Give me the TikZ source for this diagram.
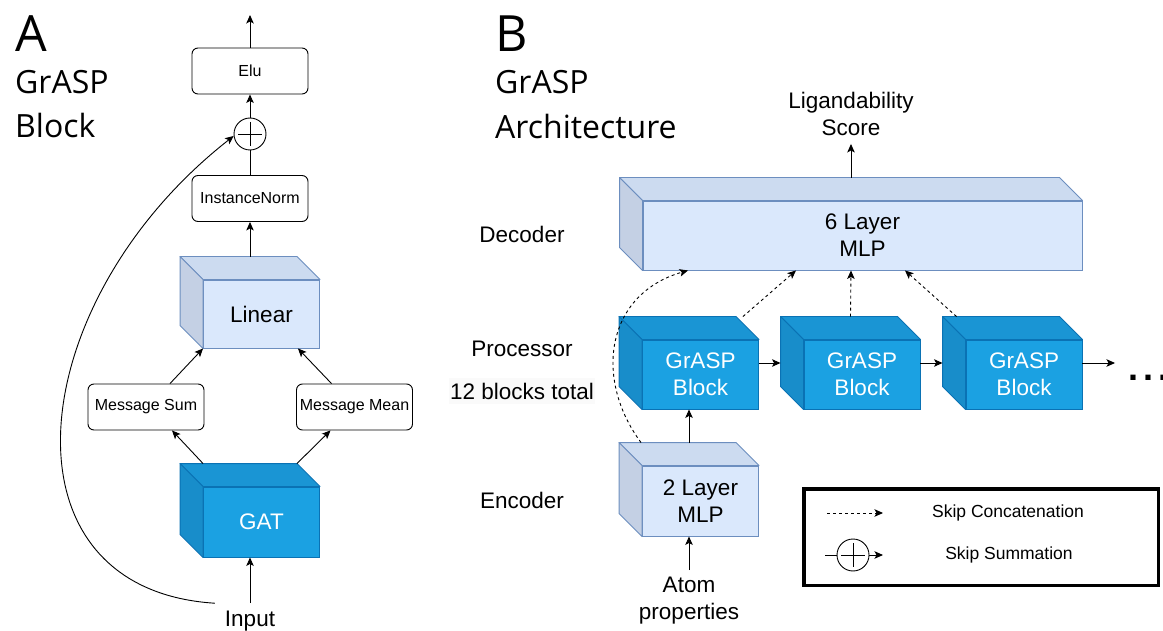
\documentclass[tikz,border=0pt]{standalone}
\usepackage{fontspec}
\setmainfont{Liberation Sans}
\newfontfamily\headfont{Open Sans}
\usetikzlibrary{arrows.meta}

\definecolor{lbfill}{HTML}{DAE8FC}
\definecolor{lbtop}{HTML}{CCDBF0}
\definecolor{lbside}{HTML}{C4D0E4}
\definecolor{lbedge}{HTML}{6C8EBF}
\definecolor{dbfill}{HTML}{1BA1E2}
\definecolor{dbtop}{HTML}{1A95D4}
\definecolor{dbside}{HTML}{188DCA}
\definecolor{dbedge}{HTML}{0A72B4}

\tikzset{
  big/.style={font=\fontsize{22.5}{27}\selectfont, align=center, inner sep=2pt},
  small/.style={font=\fontsize{16}{18}\selectfont},
  legtext/.style={font=\fontsize{17.5}{20}\selectfont, inner sep=0pt},
  head/.style={font=\headfont\fontsize{32}{32}\selectfont, anchor=base west, inner sep=0pt},
  opbox/.style={small, draw, rounded corners=6pt, line width=0.9pt, minimum width=116pt, minimum height=46pt, inner sep=0pt},
  lightcube/.style={big, draw=lbedge, fill=lbfill, line width=0.9pt, inner sep=0pt},
  darkcube/.style={big, text=white, draw=dbedge, fill=dbfill, line width=0.9pt, inner sep=0pt},
  oplus/.style={circle, draw, line width=0.9pt, minimum size=32pt, inner sep=0pt,
    path picture={\draw[line width=0.9pt] ([xshift=4pt]path picture bounding box.west) -- ([xshift=-4pt]path picture bounding box.east)
      ([yshift=-4pt]path picture bounding box.north) -- ([yshift=4pt]path picture bounding box.south);}},
  arr/.style={-{Stealth[length=8.5pt,width=7.5pt,inset=2pt]}, line width=0.9pt},
  skip/.style={arr, dash pattern=on 3pt off 3pt},
}

\begin{document}
\begin{tikzpicture}[x=1pt,y=-1pt]
  \useasboundingbox (0,0) rectangle (1163,631);
  \fill[white] (0,0) rectangle (1163,631);

  % panel A
  \node[head, font=\headfont\fontsize{50}{50}\selectfont] (labA) at (15,52) {A};
  \node[head] (labAa) at (15,94) {GrASP};
  \node[head] (labAb) at (15,138) {Block};

  \node[opbox] (elu) at (250,71) {Elu};
  \node[oplus] (plus) at (250,134) {};
  \node[opbox] (inorm) at (250,198.5) {InstanceNorm};
  \node[lightcube, minimum width=116pt, minimum height=68pt] (lin) at (261.5,314) {Linear};
  \node[opbox] (msum) at (146,407) {Message Sum};
  \node[opbox] (mmean) at (354.5,407) {Message Mean};
  \node[darkcube, minimum width=116pt, minimum height=70pt] (gat) at (261.5,522) {GAT};
  \node[big, inner ysep=8pt, inner xsep=10pt] (input) at (250,621.5) {Input};
  \coordinate (aout) at (250,15);

  % panel B
  \node[head, font=\headfont\fontsize{50}{50}\selectfont] (labB) at (495,52) {B};
  \node[head] (labBa) at (495,94) {GrASP};
  \node[head] (labBb) at (495,139) {Architecture};

  \node[big, inner ysep=8pt] (score) at (851,114) {Ligandability\\Score};
  \node[lightcube, minimum width=439pt, minimum height=69pt] (dec) at (862.5,235.5) {6 Layer\\MLP};
  \node[darkcube, minimum width=116pt, minimum height=69pt] (b1) at (700.5,374.5) {GrASP\\Block};
  \node[darkcube, minimum width=116pt, minimum height=69pt] (b2) at (862,374.5) {GrASP\\Block};
  \node[darkcube, minimum width=116pt, minimum height=69pt] (b3) at (1024,374.5) {GrASP\\Block};
  \node[lightcube, minimum width=116pt, minimum height=70pt] (enc) at (700.5,501) {2 Layer\\MLP};
  \node[big, inner ysep=7pt] (atom) at (689,601) {Atom\\properties};
  \coordinate (more) at (1115,363);
  \node[anchor=base west, inner sep=0pt, font=\fontsize{36}{36}\selectfont\bfseries] (dots) at (1128,380) {.\hspace{5pt}.\hspace{5pt}.};

  \node[big] (declab) at (522,234) {Decoder};
  \node[big] (proclab) at (522,349) {Processor};
  \node[big, fill=black!2, inner xsep=1.5pt, inner ysep=5pt] (nblk) at (522,391) {12 blocks total};
  \node[big] (enclab) at (522,500) {Encoder};

  % top and side faces of the cubes
  \foreach \c/\tp/\sd/\ed in {lin/lbtop/lbside/lbedge, gat/dbtop/dbside/dbedge, dec/lbtop/lbside/lbedge,
      enc/lbtop/lbside/lbedge, b1/dbtop/dbside/dbedge, b2/dbtop/dbside/dbedge, b3/dbtop/dbside/dbedge} {
    \filldraw[fill=\tp, draw=\ed, line width=0.9pt, line join=round]
      (\c.north west) -- ++(-23,-23) -- ([shift={(-23,-23)}]\c.north east) -- (\c.north east) -- cycle;
    \filldraw[fill=\sd, draw=\ed, line width=0.9pt, line join=round]
      (\c.north west) -- ++(-23,-23) -- ([shift={(-23,-23)}]\c.south west) -- (\c.south west) -- cycle;
  }

  \draw[arr] (elu.north) -- (aout);
  \draw[arr] (plus.north) -- (elu.south);
  \draw[line width=0.9pt] (inorm.north) -- (plus.south);
  \draw[arr] ([shift={(-11.5,-23)}]lin.north) -- (inorm.south);
  \draw[arr] ([shift={(24,0)}]msum.north) -- (lin.south west);
  \draw[arr] ([shift={(-23,0)}]mmean.north) -- ([shift={(-22,0)}]lin.south east);
  \draw[arr] ([shift={(0,-23)}]gat.north west) -- ([shift={(26,0)}]msum.south);
  \draw[arr] ([shift={(-23,-23)}]gat.north east) -- ([shift={(-24,0)}]mmean.south);
  \draw[arr] (input.north) -- ([shift={(-11.5,0)}]gat.south);
  \draw[arr] (input.north west) .. controls +(-222,-14) and +(-212,166) .. (plus.187);

  \draw[arr] ([shift={(-11.5,-23)}]dec.north) -- (score.south);
  \draw[arr] (atom.north) -- ([shift={(-11.5,0)}]enc.south);
  \draw[arr] ([shift={(-11.5,-23)}]enc.north) -- ([shift={(-11.5,0)}]b1.south);
  \draw[arr] ([shift={(0,-11.5)}]b1.east) -- ([shift={(-23,-11.5)}]b2.west);
  \draw[arr] ([shift={(0,-11.5)}]b2.east) -- ([shift={(-23,-11.5)}]b3.west);
  \draw[arr] ([shift={(0,-11.5)}]b3.east) -- (more);
  \draw[skip] ([shift={(-1,-23)}]enc.north west) .. controls +(-47,-63) and +(-83,24) .. ([shift={(-174.5,0)}]dec.south);
  \draw[skip] ([shift={(-16,-23)}]b1.north east) -- ([shift={(-66.5,0)}]dec.south);
  \draw[skip] ([shift={(-11.5,-23)}]b2.north) -- ([shift={(-11.5,0)}]dec.south);
  \draw[skip] ([shift={(-9,-23)}]b3.north west) -- ([shift={(42.5,0)}]dec.south);

  % legend
  \node[draw, line width=3.5pt, minimum width=354.5pt, minimum height=96.5pt, inner sep=0pt] (legend) at (981,537) {};
  \coordinate (ca) at (827,513);
  \coordinate (cb) at (883,513);
  \draw[skip] (ca) -- (cb);
  \node[legtext] (lcat) at (1008,513) {Skip Concatenation};
  \node[oplus] (lsum) at (853,555) {};
  \coordinate (sa) at (825,555);
  \coordinate (sb) at (883,555);
  \draw[line width=0.9pt] (sa) -- (lsum.west);
  \draw[arr] (lsum.east) -- (sb);
  \node[legtext] (lsumtxt) at (1009,555) {Skip Summation};
\end{tikzpicture}
\end{document}
